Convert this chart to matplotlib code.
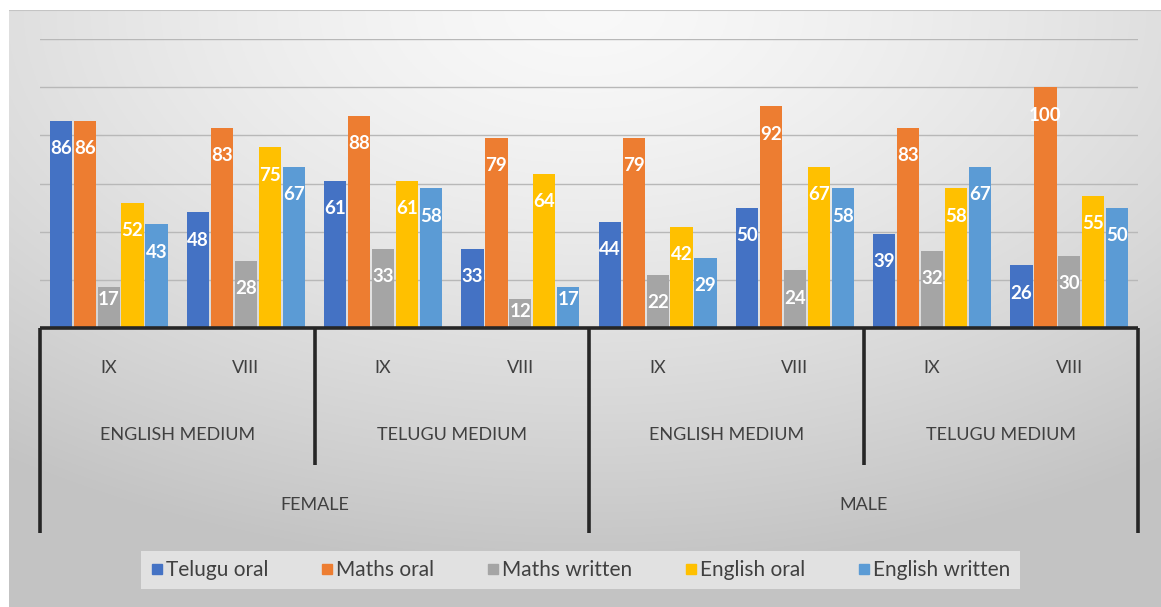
import numpy as np
import matplotlib
matplotlib.use("Agg")
import matplotlib.pyplot as plt
from matplotlib.lines import Line2D

plt.rcParams['font.family'] = ['Lato', 'DejaVu Sans']

# scores per class group
classes = ["IX", "VIII", "IX", "VIII", "IX", "VIII", "IX", "VIII"]
mediums = ["ENGLISH MEDIUM", "TELUGU MEDIUM", "ENGLISH MEDIUM", "TELUGU MEDIUM"]
genders = ["FEMALE", "MALE"]

series_names = ["Telugu oral", "Maths oral", "Maths written", "English oral", "English written"]
telugu_oral = [86, 48, 61, 33, 44, 50, 39, 26]
maths_oral = [86, 83, 88, 79, 79, 92, 83, 100]
maths_written = [17, 28, 33, 12, 22, 24, 32, 30]
english_oral = [52, 75, 61, 64, 42, 67, 58, 55]
english_written = [43, 67, 58, 17, 29, 58, 67, 50]
colors = ["#4472C4", "#ED7D31", "#A5A5A5", "#FFC000", "#5B9BD5"]

all_series = [telugu_oral, maths_oral, maths_written, english_oral, english_written]

W, H = 1161, 607
fig = plt.figure(figsize=(W / 100, H / 100), dpi=100)
fig.patch.set_facecolor("white")

# soft grey gradient behind the chart
bg = fig.add_axes([9 / W, 0, 1 - 9 / W, 1 - 10 / H], zorder=-10)
gy, gx = np.mgrid[0:1:300j, 0:1:600j]
d = np.sqrt(((gx - 0.5) * 1.0) ** 2 + ((gy - 0.0) * 0.9) ** 2)
shade = 0.975 - 0.21 * np.clip(d / 0.85, 0, 1) ** 1.4
bg.imshow(np.dstack([shade] * 3), aspect="auto", extent=[0, 1, 0, 1], origin="upper")
bg.set_xlim(0, 1)
bg.set_ylim(0, 1)
bg.axis("off")
bg.axhline(1, color="#C4C4C4", lw=1.5)

ax = fig.add_axes([40 / W, (H - 328) / H, 1098 / W, 289 / H])
ax.patch.set_alpha(0)

n = len(all_series)
x = np.arange(len(classes))
step = 0.174
bar_w = 0.162
for i, (vals, c) in enumerate(zip(all_series, colors)):
    pos = x + (i - (n - 1) / 2) * step
    ax.bar(pos, vals, bar_w, color=c, zorder=3, label=series_names[i])
    for px, v in zip(pos, vals):
        off = -13 if v < 20 else -24
        ax.annotate(str(v), (px, v), xytext=(0, off), textcoords="offset points",
                    ha="center", va="baseline", color="white", fontsize=13.5,
                    fontweight="bold", zorder=4)

ax.set_xlim(-0.5, len(classes) - 0.5)
ax.set_ylim(0, 120)
for g in range(20, 121, 20):
    ax.axhline(g, color="#B8B8B8", lw=1, zorder=1)
for s in ax.spines.values():
    s.set_visible(False)
ax.set_xticks([])
ax.set_yticks([])

# multi-level category axis
tr = ax.get_xaxis_transform()
line_kw = dict(color="#262626", lw=2.6, transform=tr, clip_on=False, solid_capstyle="butt")
ax.plot([-0.5, len(classes) - 0.5], [0, 0], **line_kw, zorder=5)
for sep in [-0.5, 3.5, 7.5]:
    ax.plot([sep, sep], [0, -0.71], **line_kw)
for sep in [1.5, 5.5]:
    ax.plot([sep, sep], [0, -0.474], **line_kw)

txt_kw = dict(transform=tr, ha="center", va="center", color="#404040", fontsize=13)
for xi, lab in zip(x, classes):
    ax.text(xi, -0.138, lab, **txt_kw)
for k, lab in enumerate(mediums):
    ax.text(2 * k + 0.5, -0.37, lab, **txt_kw)
for k, lab in enumerate(genders):
    ax.text(4 * k + 1.5, -0.612, lab, **txt_kw)

handles = [Line2D([], [], marker="s", ls="", color=c, markersize=7.5) for c in colors]
leg = fig.legend(handles, series_names, loc="center", bbox_to_anchor=(0.5, 1 - 570 / H),
                 ncol=5, fontsize=15, frameon=True, facecolor="#E9E9E9", edgecolor="none",
                 framealpha=0.8, fancybox=False, handlelength=0.6, handletextpad=0.15,
                 columnspacing=2.5, borderpad=0.45, borderaxespad=0)
for t in leg.get_texts():
    t.set_color("#404040")

fig.savefig("out.png", dpi=100)
